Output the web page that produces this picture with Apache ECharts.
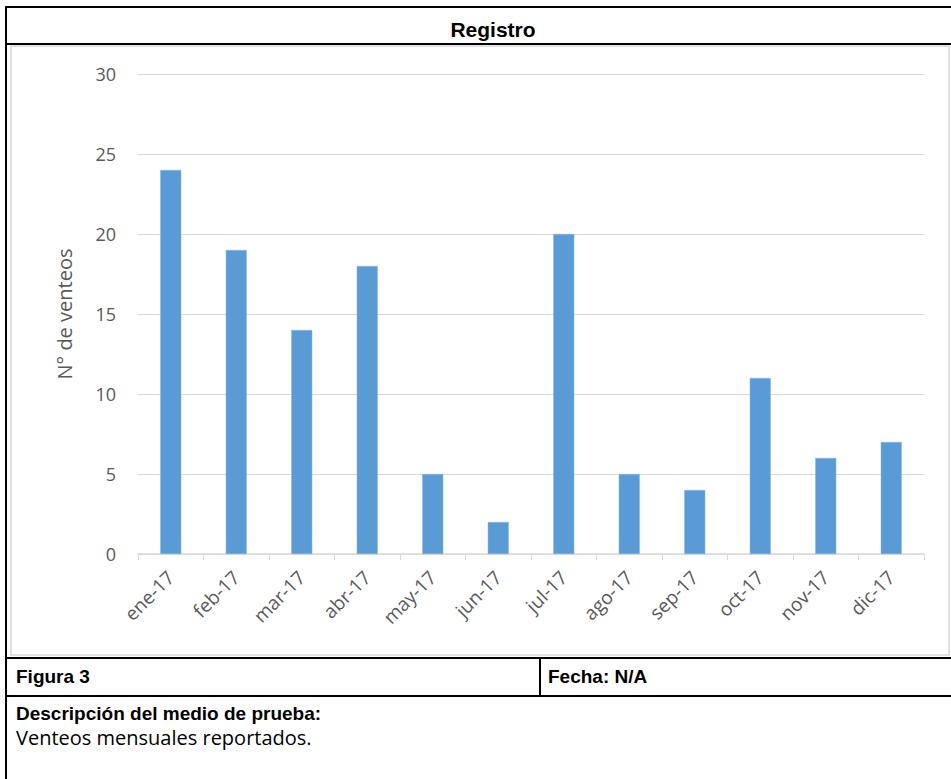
<!DOCTYPE html>
<html><head><meta charset="utf-8">
<script src="https://cdn.jsdelivr.net/npm/echarts@6/dist/echarts.min.js"></script>
<style>html,body{margin:0;padding:0;background:#fff}#c{width:951px;height:779px}</style>
</head><body><div id="c"></div>
<script>
const categories = ['ene-17','feb-17','mar-17','abr-17','may-17','jun-17','jul-17','ago-17','sep-17','oct-17','nov-17','dic-17'];
const ventos = [24, 19, 14, 18, 5, 2, 20, 5, 4, 11, 6, 7];
const yTicks = [0, 5, 10, 15, 20, 25, 30];

const chart = echarts.init(document.getElementById('c'), null, {renderer: 'svg'});
const txtFont = '"Liberation Sans", Arial, sans-serif';
const axFont = '"Open Sans", "Noto Sans", sans-serif';
const black = '#000';
function line(x1, y1, x2, y2, w, c) {
  return {type: 'line', shape: {x1, y1, x2, y2}, style: {stroke: c || black, lineWidth: w || 2}, silent: true};
}
chart.setOption({
  animation: false,
  title: {text: 'Registro', left: 488, top: 14, textAlign: 'center',
    textStyle: {fontFamily: txtFont, fontWeight: 'bold', fontSize: 21, color: '#000'}},
  grid: {left: 138, right: 27, top: 74, bottom: 225},
  xAxis: {type: 'category', data: categories,
    axisLine: {lineStyle: {color: '#d9d9d9', width: 1.5}},
    axisTick: {show: true, length: 6, lineStyle: {color: '#d9d9d9'}},
    axisLabel: {rotate: 45, color: '#595959', fontSize: 19, fontFamily: axFont, margin: 20}},
  yAxis: {type: 'value', min: 0, max: 30, interval: 5,
    name: 'N° de venteos', nameLocation: 'middle', nameGap: 64,
    nameTextStyle: {color: '#595959', fontSize: 20, fontFamily: axFont},
    axisLine: {show: false}, axisTick: {show: false},
    axisLabel: {color: '#595959', fontSize: 18, fontFamily: axFont, margin: 22,
      formatter: v => yTicks.includes(v) ? String(v) : ''},
    splitLine: {lineStyle: {color: '#d9d9d9', width: 1}}},
  series: [{type: 'bar', data: ventos, barWidth: 21,
    itemStyle: {color: '#5b9bd5', borderColor: '#82b4e2', borderWidth: 0.5}}],
  graphic: [
    {type: 'rect', shape: {x: 11, y: 46, width: 938, height: 609},
      style: {fill: 'none', stroke: '#d9d9d9', lineWidth: 1.5}, silent: true, z: -1},
    line(6, 7, 951, 7),
    line(6, 6, 6, 779),
    line(6, 44, 951, 44),
    line(6, 658, 951, 658),
    line(6, 696, 951, 696),
    line(540, 658, 540, 696),
    {type: 'text', left: 16, top: 667, style: {text: 'Figura 3', fontFamily: txtFont, fontWeight: 'bold', fontSize: 19, fill: '#000'}},
    {type: 'text', left: 548, top: 667, style: {text: 'Fecha: N/A', fontFamily: txtFont, fontWeight: 'bold', fontSize: 19, fill: '#000'}},
    {type: 'text', left: 16, top: 704, style: {text: 'Descripción del medio de prueba:', fontFamily: txtFont, fontWeight: 'bold', fontSize: 19, fill: '#000'}},
    {type: 'text', left: 16, top: 727, style: {text: 'Venteos mensuales reportados.', fontFamily: axFont, fontSize: 20, fill: '#000'}}
  ]
});
</script></body></html>
